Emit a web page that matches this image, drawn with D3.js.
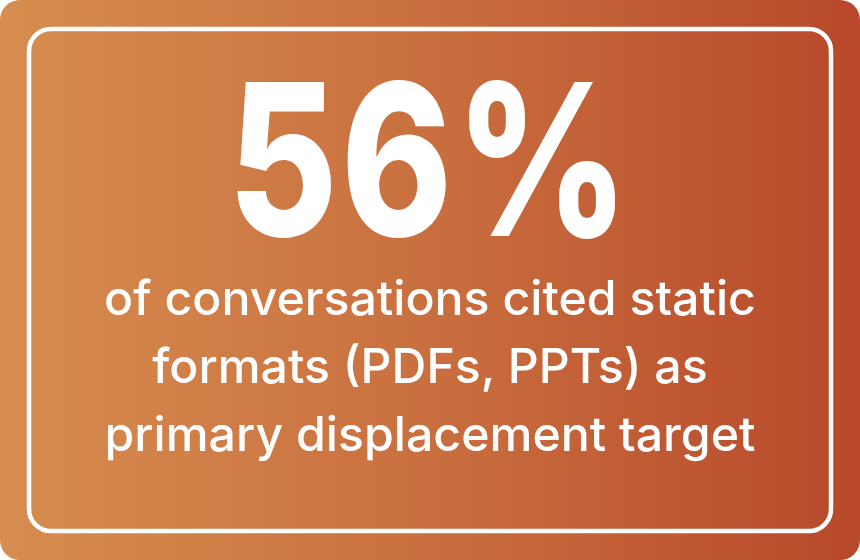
<!DOCTYPE html>
<html><head><meta charset="utf-8">
<script src="https://cdn.jsdelivr.net/npm/d3@7"></script>
<style>html,body{margin:0;padding:0;background:#fff;}svg{display:block;}</style>
</head><body>
<svg id="c" width="860" height="560"></svg>
<script>
const statValue = [56];
const statSuffix = ["%"];
const subtitleLines = [
  "of conversations cited static",
  "formats (PDFs, PPTs) as",
  "primary displacement target"
];
const gradientStops = ["#D78D4F", "#C96F3F", "#B7482A"];

const W = 860, H = 560;
const svg = d3.select("#c");
const defs = svg.append("defs");
const grad = defs.append("linearGradient").attr("id","g")
  .attr("x1","0%").attr("y1","0%").attr("x2","100%").attr("y2","0%");
const stopScale = d3.scaleLinear().domain([0, gradientStops.length-1]).range([0,100]);
grad.selectAll("stop").data(gradientStops).join("stop")
  .attr("offset",(d,i)=>stopScale(i)+"%").attr("stop-color",d=>d);

svg.append("rect").attr("x",0).attr("y",0).attr("width",W).attr("height",H)
  .attr("rx",20).attr("fill","url(#g)");
svg.append("rect").attr("x",29).attr("y",29).attr("width",W-58).attr("height",H-58)
  .attr("rx",22).attr("fill","none").attr("stroke","#fff").attr("stroke-width",4.5);

const bigG = svg.append("g").attr("transform",`translate(${W/2},236)`);
const big = bigG.append("text").attr("x",0).attr("y",0)
  .attr("text-anchor","middle").attr("fill","#fff")
  .attr("font-family","Inter, 'Open Sans', sans-serif").attr("font-weight",800)
  .attr("font-size",211).attr("letter-spacing",4)
  .text(statValue[0] + statSuffix[0]);
const bb = big.node().getBBox();
const sx = 404 / bb.width;
bigG.attr("transform",`translate(${W/2},236) scale(${sx},1)`);

const lineY = d3.scaleLinear().domain([0,2]).range([315,451]);
const subs = svg.selectAll("text.sub").data(subtitleLines).join("text")
  .attr("class","sub").attr("x",W/2).attr("y",(d,i)=>lineY(i))
  .attr("text-anchor","middle").attr("fill","#fff")
  .attr("font-family","Inter, 'Open Sans', sans-serif").attr("font-weight",500)
  .attr("font-size",40).text(d=>d);
const w0 = subs.nodes()[0].getComputedTextLength();
subs.attr("font-size", 40*652/w0);
</script>
</body></html>
